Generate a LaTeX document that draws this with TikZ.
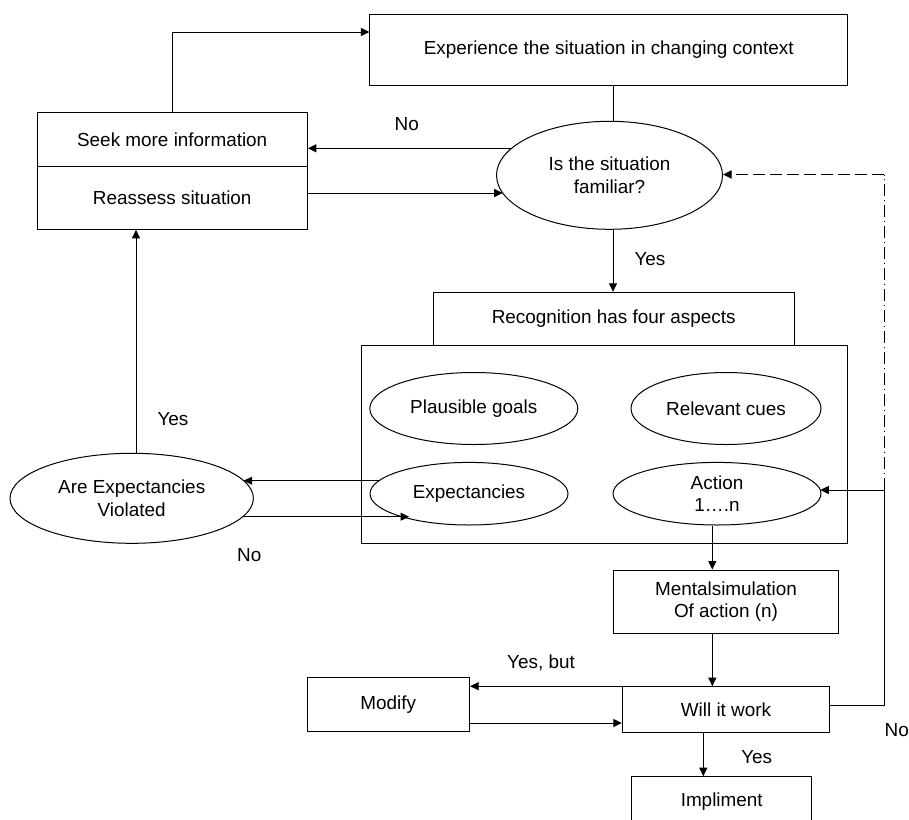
\documentclass[tikz,border=0pt]{standalone}
\usepackage{fontspec}
\setmainfont{Liberation Sans}
\usetikzlibrary{shapes.geometric,arrows.meta,calc}
\begin{document}
\begin{tikzpicture}[x=1pt,y=-1pt,line width=1pt,
  font=\fontsize{18.9}{22.5}\selectfont,
  box/.style={draw, rectangle, inner sep=0pt, align=center},
  oval/.style={draw, ellipse, inner sep=0pt, align=center},
  lbl/.style={inner sep=0pt, anchor=base},
  arr/.style={-{Triangle[length=8.5pt,width=8pt]}},
  dashline/.style={dash pattern=on 12pt off 5pt},
  dashdot/.style={dash pattern=on 12pt off 4pt on 1pt off 4pt}]
\useasboundingbox (0,0) rectangle (909,819);
\clip (0,0) rectangle (909,819);

% boxes and ovals
\node[box, minimum width=477.7pt, minimum height=71.7pt] (exp) at (608.8,49.9) {Experience the situation in changing context};
\node[box, minimum width=270.3pt, minimum height=53.3pt] (seek) at (172.2,139.4) {Seek more information};
\node[box, minimum width=270.3pt, minimum height=63.3pt] (reas) at (172.2,197.7) {Reassess situation};
\node[oval, minimum width=226pt, minimum height=108pt] (fam) at (609.5,175.3) {Is the situation\\familiar?};
\node[box, minimum width=486.4pt, minimum height=197.6pt] (grp) at (604.5,444.5) {};
\node[box, minimum width=360.7pt, minimum height=53.4pt] (rec) at (613.7,319) {Recognition has four aspects};
\node[oval, minimum width=208pt, minimum height=72pt] (plaus) at (473.8,408.5) {Plausible goals};
\node[oval, minimum width=190pt, minimum height=72pt] (cues) at (726,408.5) {Relevant cues};
\node[oval, minimum width=198pt, minimum height=62.6pt] (expc) at (469,493.7) {Expectancies};
\node[oval, minimum width=208pt, minimum height=62.6pt] (act) at (717,493.7) {Action\\1….n};
\node[oval, minimum width=243.4pt, minimum height=90pt] (are) at (131.7,498.3) {Are Expectancies\\Violated};
\node[box, minimum width=225.4pt, minimum height=63.3pt] (ment) at (726,601.7) {Mentalsimulation\\Of action (n)};
\node[box, minimum width=207.4pt, minimum height=45.6pt] (will) at (726,709.5) {Will it work};
\node[box, minimum width=162.5pt, minimum height=54pt] (mod) at (388.3,704.7) {Modify};
\node[box, minimum width=180pt, minimum height=50pt] (imp) at (721.7,801.7) {Impliment};

% top loop back to the situation
\coordinate (up) at (172.2,32);
\draw[arr] (seek.north) -- (up) -- (up -| exp.west);
\draw ([xshift=3.5pt]fam.north) -- ([xshift=3.5pt]fam.north |- exp.south);
\draw[arr] ([xshift=3.5pt]fam.south) -- ([xshift=3.5pt]fam.south |- rec.north);

% familiar? no / reassess
\coordinate (noS) at ($(fam.center)+(-97.9,-27)$);
\draw[arr] (noS) -- (noS -| seek.east);
\coordinate (raE) at ($(fam.center)+(-106.8,17.7)$);
\draw[arr] (raE -| reas.east) -- (raE);

% expectancies check
\coordinate (e1) at ($(expc.center)+(-90,-13)$);
\coordinate (a1) at ($(are.center)+(112,-17.6)$);
\draw[arr] (e1) -- (e1 -| a1);
\coordinate (a2) at ($(are.center)+(111,18.4)$);
\coordinate (e2) at ($(expc.center)+(-60,23)$);
\draw[arr] (a2) -- (e2);
\draw[arr] ([xshift=4.3pt]are.north) -- ([xshift=4.3pt]are.north |- reas.south);

% action chain
\draw[arr] ([xshift=-4.7pt]act.south) -- ([xshift=-4.7pt]act.south |- ment.north);
\draw[arr] ([xshift=-13.7pt]ment.south) -- ([xshift=-13.7pt]ment.south |- will.north);
\draw[arr] (will.north west) -- (will.north west -| mod.east);
\draw[arr] ([yshift=-18.3pt]mod.east) -- ([yshift=-18.3pt]mod.east -| will.west);
\draw[arr] ([xshift=-22.7pt]will.south) -- ([xshift=-22.7pt]will.south |- imp.north);

% "no" loop on the right
\coordinate (rt) at (884,490);
\coordinate (tr) at (884,174.5);
\coordinate (aE) at ($(act.center)+(103.3,-3.7)$);
\draw ([yshift=4.5pt]will.east) -| (rt);
\draw[arr] (rt) -- (aE);
\draw[dashdot] (rt) -- (tr);
\draw[dashline, arr] (tr) -- (tr -| fam.east);

% answer labels
\node[lbl] (l1) at (406.7,130.8) {No};
\node[lbl] (l2) at (650,265.1) {Yes};
\node[lbl] (l3) at (173,425.8) {Yes};
\node[lbl] (l4) at (249.3,561.8) {No};
\node[lbl] (l5) at (541,668.5) {Yes, but};
\node[lbl] (l6) at (896.7,736.1) {No};
\node[lbl] (l7) at (756.7,763.5) {Yes};
\end{tikzpicture}
\end{document}
